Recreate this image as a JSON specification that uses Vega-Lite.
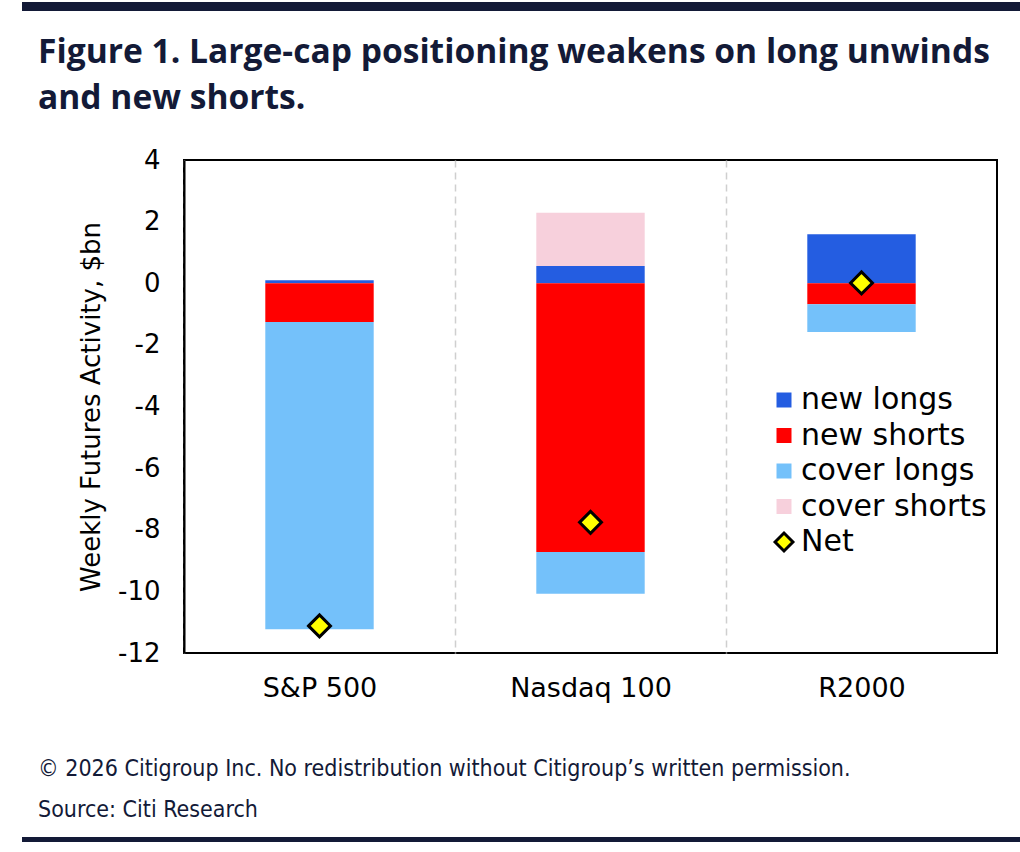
{
  "$schema": "https://vega.github.io/schema/vega-lite/v6.json",
  "padding": {"left": 22, "top": 0, "right": 0, "bottom": 0},
  "background": "white",
  "spacing": 30,
  "config": {
    "font": "DejaVu Sans",
    "view": {"stroke": null},
    "title": {"color": "#131A37"}
  },
  "vconcat": [
    {
      "width": 998,
      "height": 9,
      "data": {"values": [{"d": 0}]},
      "mark": {"type": "text", "text": ""},
      "encoding": {},
      "view": {"fill": "#131A37", "stroke": null},
      "title": {
        "text": ["Figure 1. Large-cap positioning weakens on long unwinds", "and new shorts."],
        "orient": "bottom",
        "anchor": "start",
        "frame": "group",
        "dx": 16,
        "offset": 24,
        "font": "Open Sans",
        "fontSize": 33.6,
        "fontWeight": "bold",
        "color": "#131A37",
        "lineHeight": 46
      }
    },
    {
      "vconcat": [
        {
          "hconcat": [
            {
              "width": 55,
              "height": 493,
              "data": {"values": [{"d": 0}]},
              "mark": {"type": "text", "text": ""},
              "encoding": {},
              "view": {"fill": "#FFFFFF", "stroke": null}
            },
            {
              "width": 813,
              "height": 493,
              "data": {
                "values": [
                  {"index": "S&P 500", "type": "new longs", "k": 1, "value": 0.1},
                  {"index": "S&P 500", "type": "new shorts", "k": 2, "value": -1.26},
                  {"index": "S&P 500", "type": "cover longs", "k": 3, "value": -9.97},
                  {"index": "S&P 500", "type": "cover shorts", "k": 4, "value": 0},
                  {"index": "S&P 500", "type": "Net", "k": 5, "value": -11.12},
                  {"index": "Nasdaq 100", "type": "new longs", "k": 1, "value": 0.56},
                  {"index": "Nasdaq 100", "type": "new shorts", "k": 2, "value": -8.72},
                  {"index": "Nasdaq 100", "type": "cover longs", "k": 3, "value": -1.36},
                  {"index": "Nasdaq 100", "type": "cover shorts", "k": 4, "value": 1.73},
                  {"index": "Nasdaq 100", "type": "Net", "k": 5, "value": -7.76},
                  {"index": "R2000", "type": "new longs", "k": 1, "value": 1.59},
                  {"index": "R2000", "type": "new shorts", "k": 2, "value": -0.68},
                  {"index": "R2000", "type": "cover longs", "k": 3, "value": -0.9},
                  {"index": "R2000", "type": "cover shorts", "k": 4, "value": 0},
                  {"index": "R2000", "type": "Net", "k": 5, "value": 0.01}
                ]
              },
              "view": {"stroke": "#000000", "strokeWidth": 2},
              "encoding": {
                "x": {
                  "field": "index",
                  "type": "nominal",
                  "sort": ["S&P 500", "Nasdaq 100", "R2000"],
                  "scale": {"paddingInner": 0, "paddingOuter": 0},
                  "axis": {
                    "title": null,
                    "labelAngle": 0,
                    "labelFont": "DejaVu Sans",
                    "labelFontSize": 27,
                    "labelColor": "#000000",
                    "labelPadding": 22,
                    "ticks": false,
                    "domain": false,
                    "grid": true,
                    "tickBand": "extent",
                    "gridDash": [7, 5],
                    "gridColor": "#CFCFCF",
                    "gridWidth": 1.5,
                    "gridOpacity": {"condition": {"test": "datum.value === 'R2000'", "value": 0}, "value": 1}
                  }
                },
                "y": {
                  "field": "value",
                  "type": "quantitative",
                  "stack": "zero",
                  "scale": {"domain": [-12, 4], "nice": false},
                  "axis": {
                    "values": [-12, -10, -8, -6, -4, -2, 0, 2, 4],
                    "labelExpr": "'' + datum.value",
                    "title": "Weekly Futures Activity, $bn",
                    "titleFont": "DejaVu Sans",
                    "titleFontSize": 26,
                    "titleFontWeight": "normal",
                    "titleColor": "#000000",
                    "titlePadding": 13,
                    "labelFont": "DejaVu Sans",
                    "labelFontSize": 26,
                    "labelColor": "#000000",
                    "labelPadding": 24,
                    "ticks": false,
                    "grid": false,
                    "domain": true,
                    "domainColor": "#000000",
                    "domainWidth": 2,
                    "zindex": 1
                  }
                },
                "color": {
                  "field": "type",
                  "type": "nominal",
                  "scale": {
                    "domain": ["new longs", "new shorts", "cover longs", "cover shorts", "Net"],
                    "range": ["#245DE1", "#FF0000", "#74C1FA", "#F7D0DC", "#FFFF00"]
                  },
                  "legend": {
                    "orient": "none",
                    "legendX": 747,
                    "legendY": 383,
                    "title": null,
                    "labelFont": "DejaVu Sans",
                    "labelFontSize": 30,
                    "labelLimit": 400,
                    "labelColor": "#000000",
                    "symbolType": "square",
                    "symbolSize": 225,
                    "symbolOpacity": 1,
                    "rowPadding": 5.5,
                    "labelOffset": 2,
                    "padding": 0,
                    "encode": {
                      "symbols": {
                        "update": {
                          "shape": {"signal": "datum.value === 'Net' ? 'diamond' : 'square'"},
                          "stroke": {"signal": "datum.value === 'Net' ? 'black' : 'transparent'"},
                          "strokeWidth": {"value": 3},
                          "size": {"signal": "datum.value === 'Net' ? 320 : 225"}
                        }
                      }
                    }
                  }
                }
              },
              "layer": [
                {
                  "transform": [{"filter": "datum.type !== 'Net'"}],
                  "mark": {"type": "bar", "width": {"band": 0.4}},
                  "encoding": {"order": {"field": "k", "type": "quantitative"}}
                },
                {
                  "data": {"values": [{"z": 0}]},
                  "mark": {"type": "rule", "color": "#000000", "strokeWidth": 1.5},
                  "encoding": {"y": {"datum": 0}, "x": null, "color": null}
                },
                {
                  "transform": [{"filter": "datum.type === 'Net'"}],
                  "mark": {"type": "point", "shape": "diamond", "filled": true, "size": 480, "stroke": "#000000", "strokeWidth": 3, "opacity": 1}
                }
              ]
            }
          ],
          "spacing": 0
        },
        {
          "width": 998,
          "height": 5,
          "data": {"values": [{"d": 0}]},
          "mark": {"type": "text", "text": ""},
          "encoding": {},
          "view": {"fill": "#131A37", "stroke": null},
          "title": {
            "text": ["© 2026 Citigroup Inc. No redistribution without Citigroup’s written permission.", "Source: Citi Research"],
            "orient": "top",
            "anchor": "start",
            "frame": "group",
            "dx": 16,
            "offset": 12,
            "font": "DejaVu Sans Condensed, Roboto Condensed, Roboto",
            "fontSize": 23,
            "fontWeight": "normal",
            "color": "#131A37",
            "lineHeight": 41
          }
        }
      ],
      "spacing": 55
    }
  ]
}
